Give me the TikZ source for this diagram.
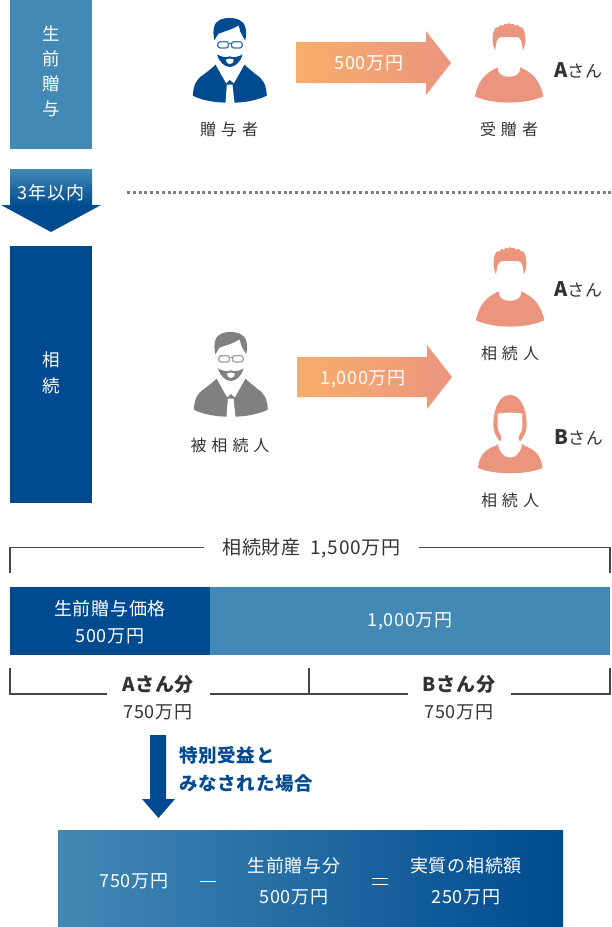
\documentclass[tikz,border=0pt]{standalone}
\usepackage{fontspec}
\setmainfont{Noto Sans CJK JP}[LetterSpace=4]
\definecolor{navy}{HTML}{004A8F}
\definecolor{midblue}{HTML}{4389B5}
\definecolor{salmon}{HTML}{EC957E}
\definecolor{peach}{HTML}{F7AE6B}
\definecolor{ink}{HTML}{333333}
\definecolor{greyman}{HTML}{808080}
\newcommand\wgap{\hspace{5pt}}
\newcommand\manicon[3]{%
\begin{scope}[shift={(#1,#2)},x=.3333pt,y=-.3333pt]
 \fill[#3] (-45,67) .. controls (-52,40) and (-48,12) .. (-28,5) .. controls (-12,-2) and (12,-2) .. (28,5) .. controls (48,12) and (54,40) .. (47,67) .. controls (42,58) and (36,50) .. (33,42) .. controls (31,34) and (29,28) .. (27,22) .. controls (10,34) and (-15,40) .. (-33,47) .. controls (-38,53) and (-41,60) .. (-45,67) -- cycle;
 \draw[#3,line width=1.3pt,opacity=.75,rounded corners=2.5pt] (-35,71) rectangle (-3,90) (6,71) rectangle (38,90);
 \draw[#3,line width=1.3pt,opacity=.75] (-3,77) -- (6,77);
 \fill[#3] (-37,109) .. controls (-25,117) and (-10,120) .. (1,115) .. controls (12,120) and (27,117) .. (39,109) .. controls (34,132) and (16,147) .. (1,147) .. controls (-14,147) and (-32,132) .. (-37,109) -- cycle;
 \fill[white] (-11,125) .. controls (-4,120) and (6,120) .. (13,125) .. controls (13,134) and (7,138) .. (1,138) .. controls (-5,138) and (-11,134) .. (-11,125) -- cycle;
 \fill[#3] (-110,233) .. controls (-108,200) and (-100,184) .. (-78,170) .. controls (-65,160) and (-52,150) .. (-42,140) -- (-10,197) -- (1,186) -- (13,197) -- (45,140) .. controls (55,150) and (68,160) .. (80,170) .. controls (102,184) and (110,200) .. (112,233) .. controls (85,246) and (50,253) .. (15,254) -- (-12,254) .. controls (-50,253) and (-85,246) .. (-110,233) -- cycle;
 \fill[white] (-8,200) -- (9,200) -- (15,255) -- (-12,255) -- cycle;
\end{scope}}
\newcommand\boyicon[2]{%
\begin{scope}[shift={(#1,#2)},x=.3333pt,y=-.3333pt]
 \fill[salmon] (-42,82) .. controls (-52,60) and (-52,30) .. (-40,14) -- (-30,12) -- (-26,6) -- (-18,8) -- (-12,2) -- (-6,5) -- (0,0) -- (6,4) -- (12,2) -- (18,8) -- (26,6) -- (32,12) -- (40,14) .. controls (52,30) and (52,60) .. (42,82) .. controls (38,60) and (38,44) .. (24,42) -- (-24,42) .. controls (-38,44) and (-38,60) .. (-42,82) -- cycle;
 \fill[salmon] (-102,220) .. controls (-92,170) and (-70,150) .. (-34,133) -- (-32,145) .. controls (-25,167) and (25,167) .. (32,145) -- (34,133) .. controls (70,150) and (92,170) .. (103,220) .. controls (50,245) and (-50,245) .. (-102,220) -- cycle;
\end{scope}}
\newcommand\girlicon[2]{%
\begin{scope}[shift={(#1,#2)},x=.3333pt,y=-.3333pt]
 \fill[salmon] (0,0) .. controls (-30,0) and (-48,35) .. (-50,85) .. controls (-51,110) and (-42,125) .. (-28,142) -- (-40,150) .. controls (-70,163) and (-92,175) .. (-96,219) .. controls (-50,240) and (50,240) .. (98,219) .. controls (92,175) and (70,163) .. (40,150) -- (28,142) .. controls (42,125) and (51,110) .. (50,85) .. controls (48,35) and (30,0) .. (0,0) -- cycle;
 \fill[white] (-37,56) .. controls (-15,52) and (15,52) .. (37,56) -- (37,95) .. controls (37,112) and (22,122) .. (26,132) .. controls (28,140) and (33,146) .. (36,150) .. controls (25,200) and (-25,200) .. (-36,150) .. controls (-33,146) and (-28,140) .. (-26,132) .. controls (-22,122) and (-37,112) .. (-37,95) -- cycle;
\end{scope}}
\tikzset{
 wtext/.style={text=white,inner sep=0pt,font=\fontsize{18}{18}\selectfont,align=center},
 itext/.style={text=ink,inner sep=0pt,font=\fontsize{16}{16}\selectfont,align=center},
 mtext/.style={text=ink,inner sep=0pt,font=\fontsize{18}{18}\selectfont,align=center},
 btext/.style={text=ink,inner sep=0pt,font=\fontsize{19}{19}\selectfont\bfseries,align=center},
 bracketline/.style={draw=ink!90,line width=1.4pt},
}
\newcommand\namelabel[1]{{\fontsize{20}{20}\selectfont\bfseries #1}{\fontsize{17}{17}\selectfont さん}}
\begin{document}
\begin{tikzpicture}[x=1pt,y=-1pt]
\useasboundingbox (0,0) rectangle (611,927);
% left column
\fill[midblue] (10,0) rectangle (92,149);
\node[wtext,font=\fontsize{17.5}{25}\selectfont] (seizen) at (51,71) {生\\前\\贈\\与};
\shade[top color=midblue,bottom color=navy] (10,169) rectangle (92,206);
\fill[navy] (1,205) -- (101,205) -- (51,232) -- cycle;
\node[wtext] (within) at (51,192.5) {3年以内};
\draw[greyman,line width=3pt,dash pattern=on 3pt off 2.8pt] (127,192.5) -- (611,192.5);
\fill[navy] (10,246) rectangle (92,503);
\node[wtext,font=\fontsize{17.5}{26}\selectfont] (souzoku) at (51,373) {相\\続};
% upper row
\manicon{229.5}{18}{navy}
\node[itext] (zouyosha) at (229,129) {贈\wgap 与\wgap 者};
\shade[left color=peach,right color=salmon] (296,42) -- (426,42) -- (426,31) -- (451,63) -- (426,95) -- (426,83) -- (296,83) -- cycle;
\node[wtext] (a500) at (369,63) {500万円};
\boyicon{509}{23}
\node[itext] (jizou) at (509,129) {受\wgap 贈\wgap 者};
\node[text=ink,inner sep=0pt,anchor=west] (a1) at (554,70) {\namelabel{A}};
% lower row
\manicon{230.5}{332}{greyman}
\node[itext] (hiso) at (230,445) {被\wgap 相\wgap 続\wgap 人};
\shade[left color=peach,right color=salmon] (297,357) -- (427,357) -- (427,345) -- (452,377) -- (427,409) -- (427,397) -- (297,397) -- cycle;
\node[wtext] (a1000) at (363,379) {1,000万円};
\boyicon{510}{247}
\node[itext] (so1) at (510,353) {相\wgap 続\wgap 人};
\node[text=ink,inner sep=0pt,anchor=west] (a2) at (554,289) {\namelabel{A}};
\girlicon{510}{395}
\node[itext] (so2) at (510,500) {相\wgap 続\wgap 人};
\node[text=ink,inner sep=0pt,anchor=west] (b2) at (554,437) {\namelabel{B}};
% estate bracket
\draw[bracketline] (10,573) -- (10,547.5) -- (204,547.5);
\draw[bracketline] (419,547.5) -- (610,547.5) -- (610,573);
\node[mtext,font=\fontsize{19}{19}\selectfont] (estate) at (311.5,548.5) {相続財産\hspace{10pt}1,500万円};
% bar
\fill[navy] (10,587) rectangle (210,655);
\fill[midblue] (210,587) rectangle (610,655);
\node[wtext,font=\fontsize{18}{27}\selectfont] (gift) at (110,622.5) {生前贈与価格\\500万円};
\node[wtext] (rest) at (410,621.5) {1,000万円};
% lower bracket
\draw[bracketline] (10,668) -- (10,694) -- (107,694);
\draw[bracketline] (210,694) -- (408,694);
\draw[bracketline] (309,668) -- (309,694);
\draw[bracketline] (511,694) -- (610,694) -- (610,668);
\node[btext] (ashare) at (158,684.5) {Aさん分};
\node[mtext] (a750) at (158,712.5) {750万円};
\node[btext] (bshare) at (459,684.5) {Bさん分};
\node[mtext] (b750) at (459,712.5) {750万円};
% down arrow
\fill[navy] (150,735) -- (166,735) -- (166,799) -- (175,799) -- (158.5,818) -- (142,799) -- (150,799) -- cycle;
\node[text=navy,inner sep=0pt,anchor=west,align=left,font=\fontsize{18.5}{28}\selectfont\bfseries] (cond) at (179,769) {特別受益と\\みなされた場合};
% result
\shade[left color=midblue,right color=navy] (58,830) rectangle (563,927);
\node[wtext] (r1) at (134,881) {750万円};
\draw[white,line width=1pt] (200,881) -- (216,881);
\node[wtext,font=\fontsize{18}{31}\selectfont] (r2) at (294,881) {生前贈与分\\500万円};
\draw[white,line width=1pt] (372,878) -- (388,878) (372,884) -- (388,884);
\node[wtext,font=\fontsize{18}{31}\selectfont] (r3) at (466,881) {実質の相続額\\250万円};
\end{tikzpicture}
\end{document}
